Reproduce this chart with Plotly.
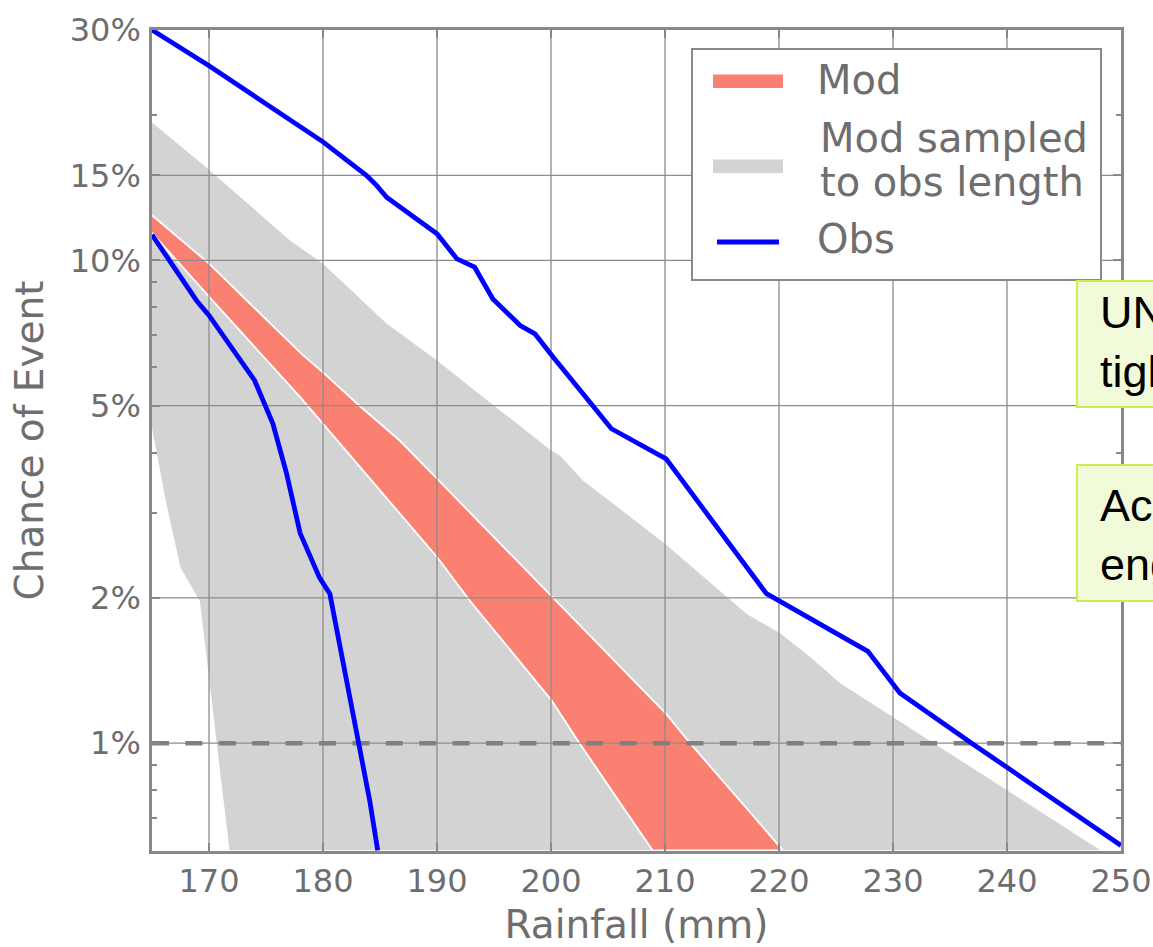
import math
import plotly.graph_objects as go

# ---------------- data ----------------
x_ticks = [170, 180, 190, 200, 210, 220, 230, 240, 250]
y_ticks = [1, 2, 5, 10, 15, 30]
y_ticktext = ["1%", "2%", "5%", "10%", "15%", "30%"]
y_minor = [0.7, 0.8, 0.9, 3, 4, 6, 7, 8, 9, 20]
x_range = [165, 250]
y_range = [0.598, 30]          # percent
threshold = 1.0                # 1% chance line

obs_upper_x = [165, 170, 180, 183.8, 184.7, 185.6, 190, 190.9, 191.75, 193.3, 194.1, 194.9,
               197.3, 198.6, 200.2, 205.3, 210.1, 218.9, 227.8, 230.6, 236.9, 240, 250]
obs_upper_y = [30, 25.3, 17.6, 15.0, 14.3, 13.5, 11.35, 10.65, 10.07, 9.68, 8.94, 8.32,
               7.33, 7.04, 6.3, 4.48, 3.88, 2.04, 1.55, 1.27, 1.0, 0.89, 0.614]

obs_lower_x = [165, 168.9, 170, 174, 175.6, 176.8, 178, 179.7, 180.6, 181.5, 182.4, 183.2, 184.1, 184.8]
obs_lower_y = [11.3, 8.26, 7.69, 5.64, 4.59, 3.62, 2.72, 2.2, 2.04, 1.58, 1.23, 1.0, 0.76, 0.6]

mod_upper_x = [165, 170, 178.1, 180, 183.2, 186.75, 190, 200, 202.5, 210.1, 212.2, 220.35]
mod_upper_y = [12.4, 9.85, 6.41, 5.86, 5.0, 4.23, 3.53, 2.02, 1.76, 1.15, 1.0, 0.6]
mod_lower_x = [165, 170.3, 178, 180, 186.75, 190, 192.9, 200.06, 202.5, 208.9]
mod_lower_y = [11.4, 8.26, 5.21, 4.59, 2.99, 2.43, 1.97, 1.226, 1.0, 0.6]

samp_upper_x = [165, 170, 177.1, 180, 185.6, 190, 195.2, 200, 200.8, 202.8, 210, 217.2,
                220.1, 222.7, 225.4, 230.2, 240, 248.2]
samp_upper_y = [19.3, 15.4, 11.0, 9.84, 7.39, 6.2, 4.96, 4.04, 3.94, 3.5, 2.59, 1.85,
                1.69, 1.51, 1.33, 1.125, 0.80, 0.6]
samp_lower_x = [165, 166.2, 167.5, 169.2, 170.1, 171.8]
samp_lower_y = [4.5, 3.18, 2.31, 1.97, 1.33, 0.6]

legend_labels = ["Mod", "Mod sampled", "to obs length", "Obs"]
note_texts = ["UN<br>tigh", "Ac<br>eng"]

# ---------------- styles ----------------
TEXT = "#6e6e6e"
AX = "#888888"
GRID = "#8c8c8c"
SALMON = "#FA8072"
LGRAY = "#D3D3D3"
BLUE = "#0000FF"
FONT = "DejaVu Sans"

fig = go.Figure()

# sampled band
fig.add_trace(go.Scatter(
    x=samp_upper_x + samp_lower_x[::-1], y=samp_upper_y + samp_lower_y[::-1],
    fill="toself", fillcolor=LGRAY, line=dict(width=0), mode="lines", hoverinfo="skip"))
# model band
fig.add_trace(go.Scatter(
    x=mod_upper_x + mod_lower_x[::-1], y=mod_upper_y + mod_lower_y[::-1],
    fill="toself", fillcolor=SALMON, line=dict(width=1.8, color="white"), mode="lines",
    hoverinfo="skip"))

# grid lines (drawn above the fills, like the reference)
gx, gy = [], []
for v in x_ticks[:-1]:
    gx += [v, v, None]
    gy += [y_range[0], y_range[1], None]
for v in y_ticks[:-1]:
    gx += [x_range[0], x_range[1], None]
    gy += [v, v, None]
fig.add_trace(go.Scatter(x=gx, y=gy, mode="lines", line=dict(color=GRID, width=1.3),
                         hoverinfo="skip"))

# 1% threshold
fig.add_trace(go.Scatter(x=x_range, y=[threshold, threshold], mode="lines",
                         line=dict(color="#808080", width=4.5, dash="17px,16.4px"),
                         hoverinfo="skip"))

# observations
fig.add_trace(go.Scatter(x=obs_upper_x, y=obs_upper_y, mode="lines",
                         line=dict(color=BLUE, width=4.8), cliponaxis=False))
fig.add_trace(go.Scatter(x=obs_lower_x, y=obs_lower_y, mode="lines",
                         line=dict(color=BLUE, width=4.8), cliponaxis=False))

# ---------------- layout ----------------
L, R, T, B = 152, 32, 30, 96
W, H = 1153, 947
pw, ph = W - L - R, H - T - B


def px(xp):
    return (xp - L) / pw


def py(yp):
    return (H - B - yp) / ph


shapes = []
annotations = []
# legend box
shapes.append(dict(type="rect", xref="paper", yref="paper", x0=px(692), x1=px(1101),
                   y0=py(280), y1=py(49), fillcolor="white", line=dict(color=AX, width=2),
                   layer="above"))
shapes.append(dict(type="rect", xref="paper", yref="paper", x0=px(713), x1=px(783),
                   y0=py(88), y1=py(74.5), fillcolor=SALMON, line=dict(width=0), layer="above"))
shapes.append(dict(type="rect", xref="paper", yref="paper", x0=px(713), x1=px(783),
                   y0=py(173), y1=py(159.5), fillcolor=LGRAY, line=dict(width=0), layer="above"))
shapes.append(dict(type="line", xref="paper", yref="paper", x0=px(717), x1=px(779),
                   y0=py(242), y1=py(242), line=dict(color=BLUE, width=4.8), layer="above"))
for txt, xx, yy in [(legend_labels[0], 815, 80), (legend_labels[1], 818, 137.5),
                    (legend_labels[2], 818, 181.5), (legend_labels[3], 815, 239)]:
    annotations.append(dict(text=txt, xref="paper", yref="paper", x=px(xx), y=py(yy),
                            xanchor="left", yanchor="middle", showarrow=False,
                            font=dict(family=FONT, size=40, color=TEXT)))

# note boxes on the right (cut by the page edge, as in the reference)
for (y0, y1, yc), txt in zip([(407, 281, 341.7), (601, 465, 535.4)], note_texts):
    shapes.append(dict(type="rect", xref="paper", yref="paper", x0=px(1077), x1=px(1400),
                       y0=py(y0), y1=py(y1), fillcolor="#F2FBD9",
                       line=dict(color="#C6EF4F", width=2), layer="above"))
    annotations.append(dict(text=txt, xref="paper", yref="paper", x=px(1098), y=py(yc),
                            xanchor="left", yanchor="middle", align="left", showarrow=False,
                            font=dict(family="Liberation Sans, Arial", size=45, color="black")))

fig.update_layout(
    width=W, height=H,
    margin=dict(l=L, r=R, t=T, b=B, pad=0, autoexpand=False),
    paper_bgcolor="white", plot_bgcolor="white",
    showlegend=False,
    font=dict(family=FONT, color=TEXT),
    shapes=shapes, annotations=annotations,
)
fig.update_xaxes(
    range=x_range, tickvals=x_ticks, ticktext=[str(v) for v in x_ticks],
    ticks="inside", ticklen=8, tickwidth=1.5, tickcolor=AX,
    showline=True, linecolor=AX, linewidth=2.5, mirror="ticks",
    showgrid=False, zeroline=False, layer="above traces", automargin=False,
    tickfont=dict(family=FONT, size=32, color=TEXT),
    title=dict(text="Rainfall (mm)", font=dict(family=FONT, size=39, color=TEXT), standoff=19),
)
fig.update_yaxes(
    type="log", range=[math.log10(y_range[0]), math.log10(y_range[1])],
    tickvals=y_ticks, ticktext=y_ticktext,
    ticks="inside", ticklen=8, tickwidth=1.5, tickcolor=AX,
    minor=dict(tickvals=y_minor, ticks="inside", ticklen=5, tickwidth=1.5, tickcolor=AX,
               showgrid=False),
    showline=True, linecolor=AX, linewidth=2.5, mirror="ticks",
    showgrid=False, zeroline=False, layer="above traces", automargin=False,
    ticklabelstandoff=2,
    tickfont=dict(family=FONT, size=32, color=TEXT),
    title=dict(text="Chance of Event", font=dict(family=FONT, size=39, color=TEXT), standoff=15),
)

fig.write_html("out.html")
